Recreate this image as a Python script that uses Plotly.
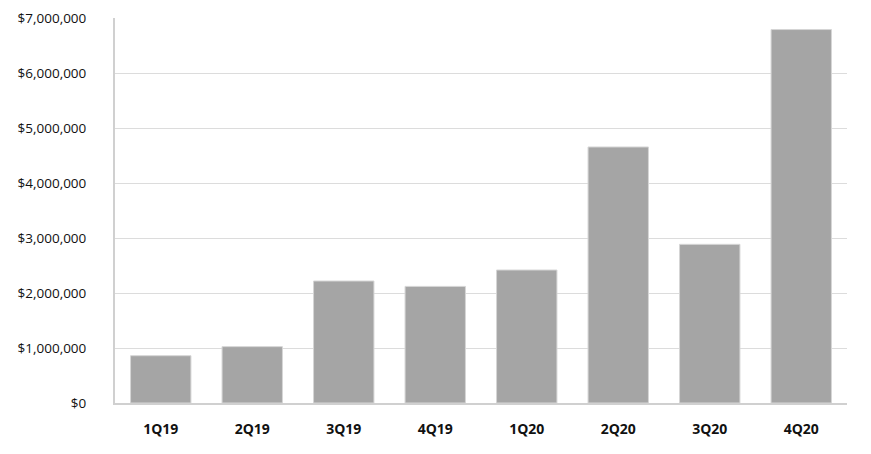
import plotly.graph_objects as go

categories = ["1Q19", "2Q19", "3Q19", "4Q19", "1Q20", "2Q20", "3Q20", "4Q20"]
values = [860000, 1025000, 2218000, 2120000, 2418000, 4655000, 2885000, 6790000]
tick_vals = [0, 1000000, 2000000, 3000000, 4000000, 5000000, 6000000, 7000000]
tick_text = ["$0", "$1,000,000", "$2,000,000", "$3,000,000", "$4,000,000",
             "$5,000,000", "$6,000,000", "$7,000,000"]

fig = go.Figure(go.Bar(
    x=categories, y=values,
    marker=dict(color="#a5a5a5", line=dict(color="#d6d6d6", width=1)),
))

fig.update_layout(
    width=871, height=454,
    margin=dict(l=107, r=32, t=10, b=59, autoexpand=False),
    paper_bgcolor="white", plot_bgcolor="white",
    bargap=0.34,
    showlegend=False,
    font=dict(family="Open Sans, sans-serif", color="#111111"),
)
fig.update_yaxes(
    range=[0, 7000000], tickvals=tick_vals, ticktext=tick_text,
    showgrid=True, gridcolor="#dcdcdc", gridwidth=1,
    showline=True, linecolor="#d0d0d0", linewidth=2,
    zeroline=False, ticks="", ticklabelstandoff=24, automargin=False,
    tickfont=dict(size=13.5, family="Open Sans, sans-serif", color="#111111"),
)
fig.update_xaxes(
    showline=True, linecolor="#d0d0d0", linewidth=2, ticks="",
    ticklabelstandoff=12, automargin=False,
    tickfont=dict(size=14, family="Open Sans, sans-serif", color="#111111", weight="bold"),
)

fig.write_html("out.html")
